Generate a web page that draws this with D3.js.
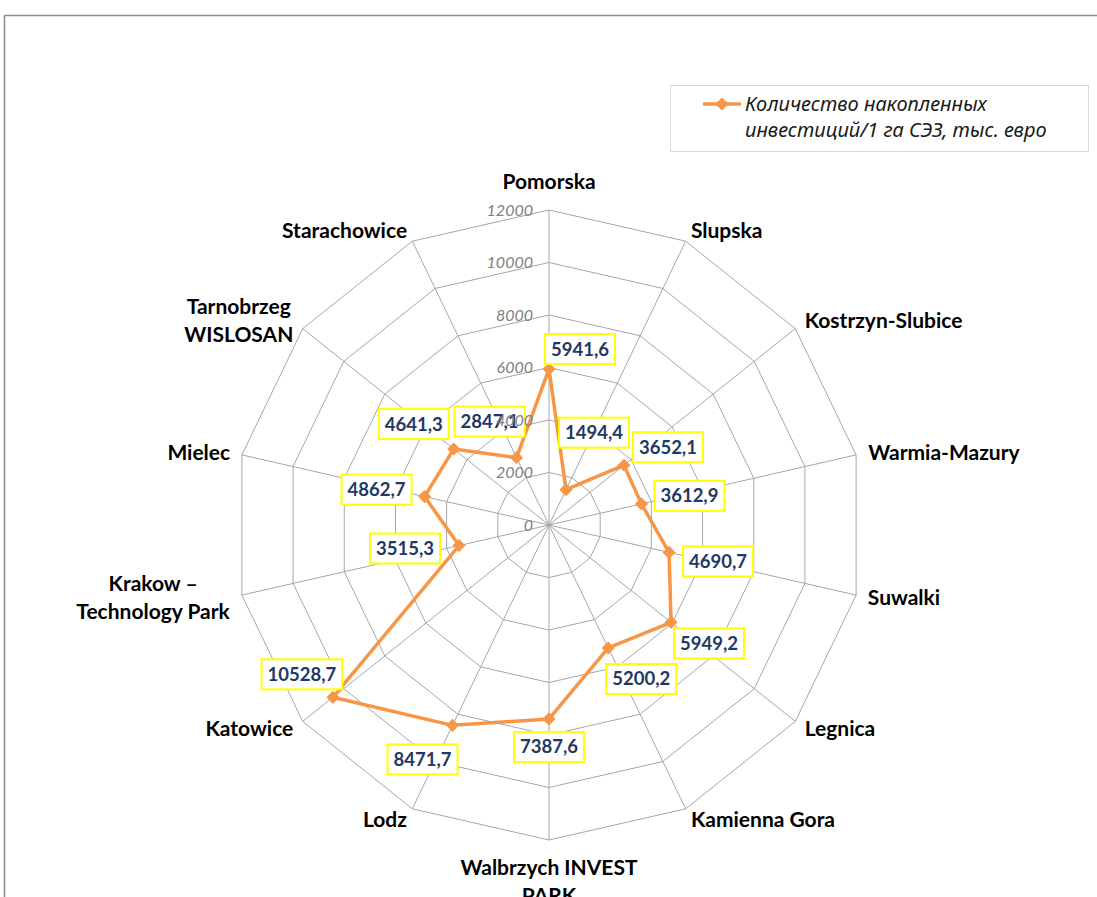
<!DOCTYPE html>
<html>
<head>
<meta charset="utf-8" />
<title>Radar chart</title>
<script src="https://d3js.org/d3.v7.min.js"></script>
<style>
    body { margin: 0; background: #fff; overflow: hidden; }
    svg { display: block; }
    .cat { font-family: Lato, "Noto Sans", sans-serif; font-weight: bold; font-size: 21px; fill: #000; }
    .tick { font-family: Lato, "Noto Sans", sans-serif; font-style: italic; font-size: 16px; fill: #808080; }
    .dlab { font-family: Lato, "Noto Sans", sans-serif; font-weight: bold; font-size: 18.5px; fill: #1f3864; }
    .leg { font-family: "Noto Sans", sans-serif; font-style: italic; font-size: 20px; fill: #1a1a1a; }
</style>
</head>
<body>
<div id="chart"></div>
<script>
// categories clockwise from the top
var categories = ["Pomorska", "Slupska", "Kostrzyn-Slubice", "Warmia-Mazury", "Suwalki",
    "Legnica", "Kamienna Gora", "Walbrzych INVEST|PARK", "Lodz", "Katowice",
    "Krakow –|Technology Park", "Mielec", "Tarnobrzeg|WISLOSAN", "Starachowice"];
var values = [5941.6, 1494.4, 3652.1, 3612.9, 4690.7, 5949.2, 5200.2,
    7387.6, 8471.7, 10528.7, 3515.3, 4862.7, 4641.3, 2847.1];
var ticks = [0, 2000, 4000, 6000, 8000, 10000, 12000];
var seriesName = ["Количество накопленных", "инвестиций/1 га СЭЗ, тыс. евро"];
// where each value box sits relative to its point (px)
var labelShift = [[31, -20], [28, -57], [44, -18], [48, -8], [49, 9], [38, 21], [33, 31],
    [0, 28], [-30, 34], [-31, -23], [-54, 3], [-48, -7], [-40, -25], [-27, -36]];

var width = 1097, height = 897;
var cx = 549, cy = 525, R = 315;
var orange = "#f79646";

var svg = d3.select("#chart").append("svg")
    .attr("width", width).attr("height", height);

// chart area border
svg.append("rect")
    .attr("x", 4.5).attr("y", 15.5)
    .attr("width", 1200).attr("height", 1000)
    .attr("fill", "#fff").attr("stroke", "#8c8c8c").attr("stroke-width", 1.5);

var r = d3.scaleLinear().domain([0, 12000]).range([0, R]);
var ang = d3.scaleLinear().domain([0, categories.length]).range([0, 2 * Math.PI]);

function pt(i, rad) {
    var a = ang(i);
    return [cx + rad * Math.sin(a), cy - rad * Math.cos(a)];
}

var g = svg.append("g");

// grid rings
g.selectAll("polygon.ring")
    .data(ticks.slice(1))
    .enter().append("polygon")
    .attr("class", "ring")
    .attr("points", function (t) {
        return categories.map(function (c, i) { return pt(i, r(t)).join(","); }).join(" ");
    })
    .attr("fill", "none").attr("stroke", "#a6a6a6").attr("stroke-width", 1);

// spokes
g.selectAll("line.spoke")
    .data(categories)
    .enter().append("line")
    .attr("class", "spoke")
    .attr("x1", cx).attr("y1", cy)
    .attr("x2", function (c, i) { return pt(i, R)[0]; })
    .attr("y2", function (c, i) { return pt(i, R)[1]; })
    .attr("stroke", "#a6a6a6").attr("stroke-width", 1);

// category labels
categories.forEach(function (c, i) {
    var a = ang(i), s = Math.sin(a), co = Math.cos(a);
    var p = pt(i, R + 12);
    var lines = c.split("|");
    var anchor = Math.abs(s) < 0.1 ? "middle" : (s > 0 ? "start" : "end");
    var y0;
    if (anchor === "middle") {
        y0 = co > 0 ? p[1] - 16 - (lines.length - 1) * 28 : p[1] + 16;
    } else {
        y0 = p[1] - (lines.length - 1) * 14;
    }
    var t = g.append("text").attr("class", "cat").attr("text-anchor", "middle");
    lines.forEach(function (l, k) {
        t.append("tspan").attr("x", p[0]).attr("y", y0 + k * 28).attr("dy", "0.35em").text(l);
    });
    if (anchor !== "middle") {
        var w = t.node().getBBox().width;
        var xm = anchor === "start" ? p[0] + w / 2 : p[0] - w / 2;
        t.selectAll("tspan").attr("x", xm);
    }
});

// series line
var line = d3.lineRadial()
    .angle(function (d, i) { return ang(i); })
    .radius(function (d) { return r(d); })
    .curve(d3.curveLinearClosed);

g.append("path")
    .datum(values)
    .attr("transform", "translate(" + cx + "," + cy + ")")
    .attr("d", line)
    .attr("fill", "none").attr("stroke", orange)
    .attr("stroke-width", 3.5).attr("stroke-linejoin", "round");

var diamond = d3.symbol().type(d3.symbolDiamond2).size(110);
g.selectAll("path.mark")
    .data(values)
    .enter().append("path")
    .attr("class", "mark")
    .attr("d", diamond)
    .attr("transform", function (d, i) { var p = pt(i, r(d)); return "translate(" + p[0] + "," + p[1] + ")"; })
    .attr("fill", orange);

// value labels
var fmt = function (v) { return d3.format(".1f")(v).replace(".", ","); };
values.forEach(function (v, i) {
    var p = pt(i, r(v));
    var x = p[0] + labelShift[i][0], y = p[1] + labelShift[i][1];
    var lg = g.append("g");
    var box = lg.append("rect");
    var t = lg.append("text").attr("class", "dlab")
        .attr("x", x).attr("y", y).attr("dy", "0.35em")
        .attr("text-anchor", "middle").text(fmt(v));
    var w = t.node().getComputedTextLength() + 12;
    box.attr("x", x - w / 2).attr("y", y - 15).attr("width", w).attr("height", 30)
        .attr("fill", "#fff").attr("stroke", "#ffff00").attr("stroke-width", 2);
});

// tick labels on the vertical axis (drawn on top, as in the original)
g.selectAll("text.tick")
    .data(ticks)
    .enter().append("text")
    .attr("class", "tick")
    .attr("x", cx - 16).attr("y", function (t) { return cy - r(t); })
    .attr("dy", "0.35em")
    .attr("text-anchor", "end")
    .text(function (t) { return t; });

// legend
var leg = svg.append("g");
leg.append("rect")
    .attr("x", 670.5).attr("y", 85.5).attr("width", 418).attr("height", 66)
    .attr("fill", "#fff").attr("stroke", "#d9d9d9").attr("stroke-width", 1);
leg.append("line")
    .attr("x1", 703).attr("x2", 741).attr("y1", 104).attr("y2", 104)
    .attr("stroke", orange).attr("stroke-width", 3.5);
leg.append("path").attr("d", diamond).attr("transform", "translate(722,104)").attr("fill", orange);
leg.selectAll("text")
    .data(seriesName)
    .enter().append("text")
    .attr("class", "leg")
    .attr("x", 745).attr("y", function (d, i) { return 104 + i * 26; })
    .attr("dy", "0.35em")
    .text(function (d) { return d; });
</script>
</body>
</html>
